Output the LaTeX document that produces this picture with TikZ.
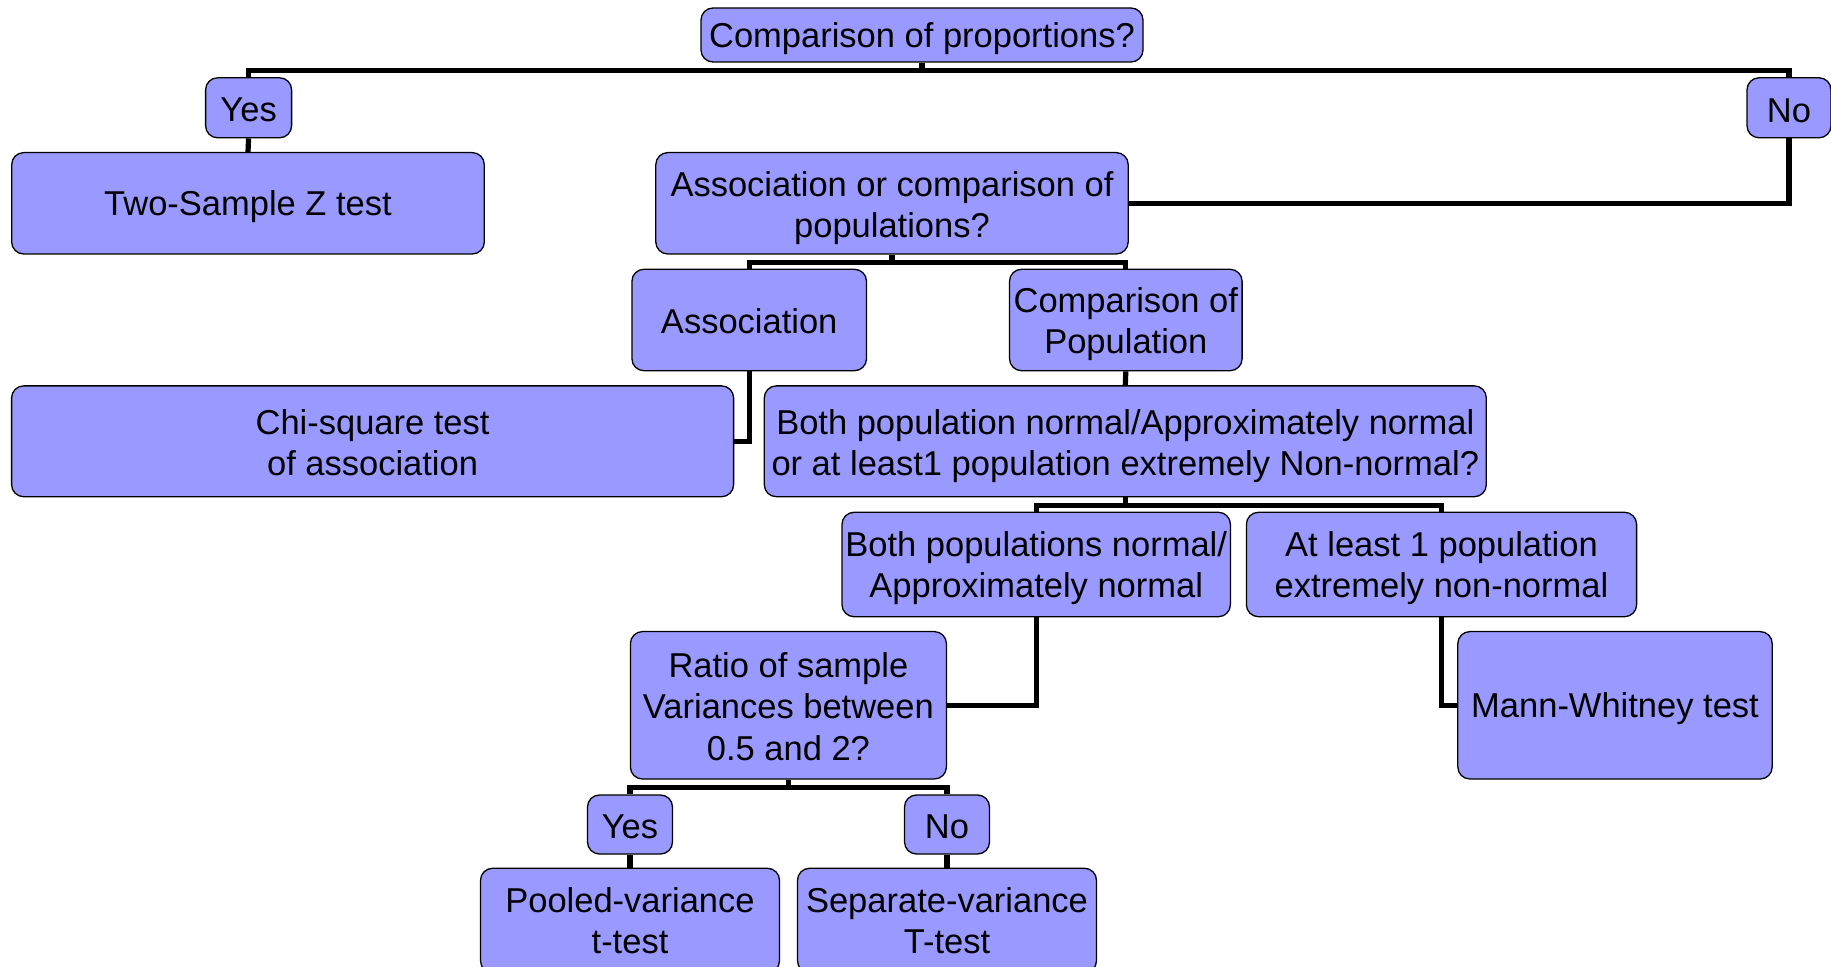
\documentclass[tikz,border=0pt]{standalone}
\usepackage{fontspec}
\setmainfont{Liberation Sans}
\definecolor{boxfill}{HTML}{9999FF}
\newcommand\tupst[1]{\rule{0pt}{#1pt}}
\begin{document}
\begin{tikzpicture}[x=0.5pt,y=-0.5pt,
  box/.style={draw=black, line width=0.65pt, fill=boxfill, rounded corners=6pt,
    align=center, inner sep=0pt, font=\fontsize{17.25pt}{20.6pt}\selectfont},
  conn/.style={draw=black, line width=2.6pt}]
\useasboundingbox (0,0) rectangle (1831,967);
\clip (0,0) rectangle (1831,967);
% nodes
\node[box, minimum width=221pt, minimum height=27pt] (top) at (922,35) {\tupst{16.1}Comparison of proportions?};
\node[box, minimum width=43pt, minimum height=30pt] (yes1) at (248.6,107.8) {\tupst{13.8}Yes};
\node[box, minimum width=42pt, minimum height=30pt] (no1) at (1789,107.8) {\tupst{14.8}No};
\node[box, minimum width=236.3pt, minimum height=50.7pt] (twos) at (248,203.3) {\tupst{16.1}Two-Sample Z test};
\node[box, minimum width=236.2pt, minimum height=50.7pt] (assocq) at (892,203.3) {\tupst{17.2}Association or comparison of\\populations?};
\node[box, minimum width=117.3pt, minimum height=50.7pt] (assoc) at (749.2,320) {\tupst{13.8}Association};
\node[box, minimum width=116.3pt, minimum height=50.7pt] (comppop) at (1125.8,320) {\tupst{16.6}Comparison of\\Population};
\node[box, minimum width=361pt, minimum height=55.4pt] (chi) at (372.6,441.3) {\tupst{13.8}Chi-square test\\of association};
\node[box, minimum width=361pt, minimum height=55.4pt] (bothq) at (1125.3,441.3) {\tupst{17.2}Both population normal/Approximately normal\\or at least1 population extremely Non-normal?};
\node[box, minimum width=194.2pt, minimum height=52.2pt] (bothn) at (1036.2,564.5) {\tupst{16.1}Both populations normal/\\Approximately normal};
\node[box, minimum width=195.1pt, minimum height=52.2pt] (atleast) at (1441.5,564.5) {\tupst{16.1}At least 1 population\\extremely non-normal};
\node[box, minimum width=158pt, minimum height=73.7pt] (ratio) at (788.4,705.3) {\tupst{13.8}Ratio of sample\\Variances between\\0.5 and 2?};
\node[box, minimum width=157.2pt, minimum height=73.7pt] (mann) at (1615,705.3) {\tupst{16.1}Mann-Whitney test};
\node[box, minimum width=42.5pt, minimum height=29.5pt] (yes2) at (630,824.5) {\tupst{13.8}Yes};
\node[box, minimum width=42.5pt, minimum height=29.5pt] (no2) at (947,824.5) {\tupst{13.8}No};
\node[box, minimum width=149.5pt, minimum height=52.2pt] (pooled) at (630,920.5) {Pooled-variance\\t-test};
\node[box, minimum width=149.5pt, minimum height=52.2pt] (sep) at (947,920.5) {Separate-variance\\T-test};
% connectors
\path (top.south) ++(0,8) coordinate (b1);
\draw[conn] (top.south) -- (b1);
\draw[conn] (yes1.north) |- (b1) -| (no1.north);
\draw[conn] (yes1.south) -- (twos.north);
\draw[conn] (no1.south) |- (assocq.east);
\path (assocq.south) ++(0,8) coordinate (b2);
\draw[conn] (assocq.south) -- (b2);
\draw[conn] (assoc.north) |- (b2) -| (comppop.north);
\draw[conn] (assoc.south) |- (chi.east);
\draw[conn] (comppop.south) -- (bothq.north);
\path (bothq.south) ++(0,8) coordinate (b3);
\draw[conn] (bothq.south) -- (b3);
\draw[conn] (bothn.north) |- (b3) -| (atleast.north);
\draw[conn] (bothn.south) |- (ratio.east);
\draw[conn] (atleast.south) |- (mann.west);
\path (ratio.south) ++(0,8) coordinate (b4);
\draw[conn] (ratio.south) -- (b4);
\draw[conn] (yes2.north) |- (b4) -| (no2.north);
\draw[conn] (yes2.south) -- (pooled.north);
\draw[conn] (no2.south) -- (sep.north);
\end{tikzpicture}
\end{document}
